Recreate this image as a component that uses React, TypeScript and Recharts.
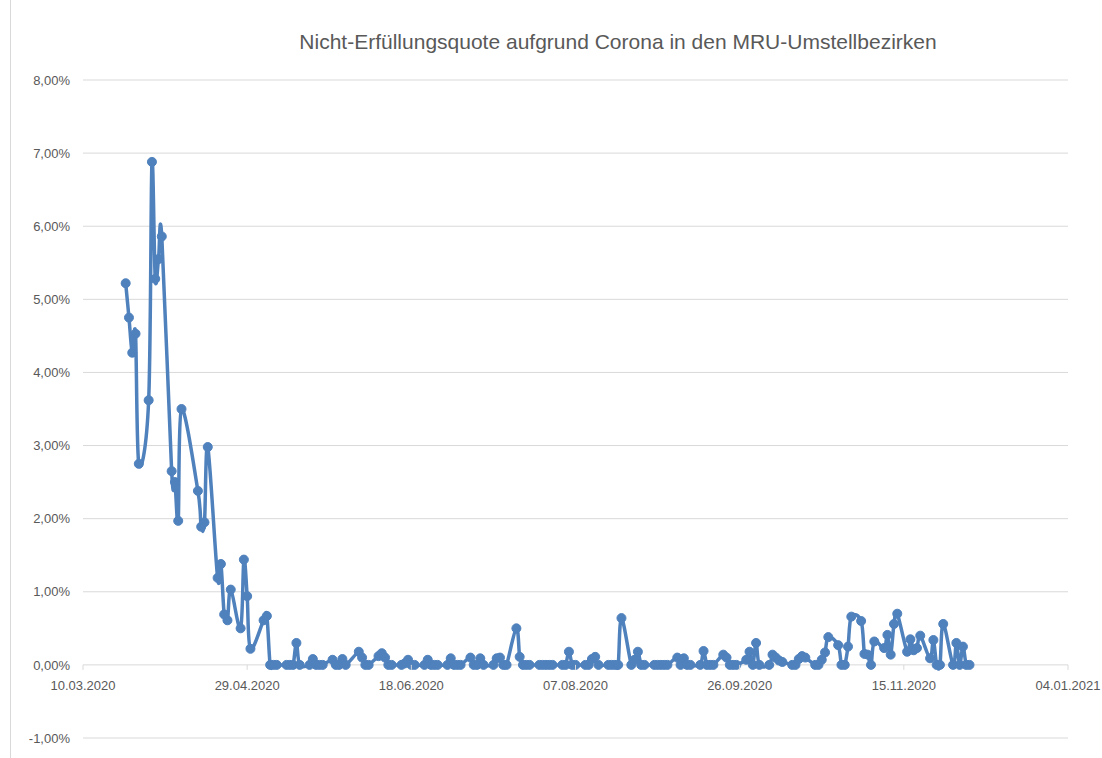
import { LineChart, Line, XAxis, YAxis, CartesianGrid } from 'recharts';

// days since 10.03.2020 (working days) and the quota in percent
const days = [
  13, 14, 15, 16, 17, 20, 21, 22, 23, 24, 27, 28, 29, 30, 35, 36, 37, 38, 41, 42, 43, 44, 45,
  48, 49, 50, 51, 55, 56, 57, 58, 59, 62, 63, 64, 65, 66, 69, 70, 71, 72, 73, 76, 77, 78, 79, 80,
  84, 85, 86, 87, 90, 91, 92, 93, 94, 97, 98, 99, 100, 101, 104, 105, 106, 107, 108,
  111, 112, 113, 114, 115, 118, 119, 120, 121, 122, 125, 126, 127, 128, 129,
  132, 133, 134, 135, 136, 139, 140, 141, 142, 143, 146, 147, 148, 149, 150,
  153, 154, 155, 156, 157, 160, 161, 162, 163, 164, 167, 168, 169, 170, 171,
  174, 175, 176, 177, 178, 181, 182, 183, 184, 185, 188, 189, 190, 191, 192,
  195, 196, 197, 198, 199, 202, 203, 204, 205, 206, 209, 210, 211, 212, 213,
  216, 217, 218, 219, 220, 223, 224, 225, 226, 227, 230, 231, 232, 233, 234,
  237, 238, 239, 240, 241, 244, 245, 246, 247, 248, 251, 252, 253, 254, 255,
  258, 259, 260, 261, 262, 265, 266, 267, 268, 269, 270,
];

const quota = [
  5.22, 4.75, 4.27, 4.53, 2.75, 3.62, 6.88, 5.28, 5.55, 5.86, 2.65, 2.5, 1.97, 3.5, 2.38, 1.89, 1.95, 2.98, 1.19, 1.38, 0.69, 0.61, 1.03,
  0.5, 1.44, 0.94, 0.22, 0.61, 0.67, 0, 0, 0, 0, 0, 0, 0.3, 0, 0, 0.08, 0, 0, 0, 0.07, 0, 0, 0.08, 0,
  0.18, 0.1, 0, 0, 0.12, 0.16, 0.1, 0, 0, 0, 0.02, 0.07, 0, 0, 0, 0.07, 0, 0, 0,
  0, 0.09, 0, 0, 0, 0.1, 0, 0, 0.09, 0, 0, 0.09, 0.1, 0, 0,
  0.5, 0.11, 0, 0, 0, 0, 0, 0, 0, 0, 0, 0, 0.18, 0, 0,
  0, 0, 0.08, 0.11, 0, 0, 0, 0, 0, 0.64, 0, 0.07, 0.18, 0, 0,
  0, 0, 0, 0, 0, 0.1, 0, 0.09, 0, 0, 0, 0.19, 0, 0, 0,
  0.14, 0.1, 0, 0, 0, 0.07, 0.18, 0, 0.3, 0, 0, 0.14, 0.1, 0.06, 0.04,
  0, 0, 0.08, 0.12, 0.1, 0, 0, 0.07, 0.17, 0.38, 0.27, 0, 0, 0.25, 0.66,
  0.6, 0.15, 0.14, 0, 0.32, 0.23, 0.41, 0.14, 0.56, 0.7, 0.18, 0.35, 0.2, 0.23, 0.4,
  0.09, 0.34, 0, 0, 0.56, 0, 0.3, 0, 0.25, 0, 0,
];

const xTicks = [0, 50, 100, 150, 200, 250, 300];
const yTicks = [-1, 0, 1, 2, 3, 4, 5, 6, 7, 8];
const title = 'Nicht-Erfüllungsquote aufgrund Corona in den MRU-Umstellbezirken';

const W = 1102;
const H = 758;
const PLOT_TOP = 80;
const PLOT_BOTTOM = 738;
const ZERO_Y = PLOT_TOP + ((8 - 0) / (8 - -1)) * (PLOT_BOTTOM - PLOT_TOP);
const BLUE = '#4f81bd';
const FONT = '"Liberation Sans", Arial, sans-serif';

const data = days.map((d, i) => ({ day: d, value: quota[i] }));

function formatDate(d: number) {
  const dt = new Date(Date.UTC(2020, 2, 10) + d * 86400000);
  const dd = String(dt.getUTCDate()).padStart(2, '0');
  const mm = String(dt.getUTCMonth() + 1).padStart(2, '0');
  return `${dd}.${mm}.${dt.getUTCFullYear()}`;
}

const formatPct = (v: number) => v.toFixed(2).replace('.', ',') + '%';

// smoothed line like Excel's (Catmull-Rom bezier)
function smoothCurve(context: any) {
  let pts: number[][] = [];
  return {
    areaStart() {},
    areaEnd() {},
    lineStart() {
      pts = [];
    },
    point(x: number, y: number) {
      pts.push([+x, +y]);
    },
    lineEnd() {
      if (!pts.length) return;
      context.moveTo(pts[0][0], pts[0][1]);
      for (let i = 0; i < pts.length - 1; i++) {
        const p0 = pts[i - 1] || pts[i];
        const p1 = pts[i];
        const p2 = pts[i + 1];
        const p3 = pts[i + 2] || p2;
        context.bezierCurveTo(
          p1[0] + (p2[0] - p0[0]) / 6,
          p1[1] + (p2[1] - p0[1]) / 6,
          p2[0] - (p3[0] - p1[0]) / 6,
          p2[1] - (p3[1] - p1[1]) / 6,
          p2[0],
          p2[1],
        );
      }
    },
  };
}

function DateTick({ x, payload }: any) {
  return (
    <g>
      <line x1={x} x2={x} y1={ZERO_Y} y2={ZERO_Y + 5} stroke="#d9d9d9" />
      <text x={x} y={ZERO_Y + 25} textAnchor="middle" fill="#595959" fontSize={13} fontFamily={FONT}>
        {formatDate(payload.value)}
      </text>
    </g>
  );
}

export default function App() {
  return (
    <div style={{ position: 'absolute', left: 0, top: 0, width: W, height: H, background: '#fff' }}>
      <div style={{ position: 'absolute', left: 10, top: 0, width: 1, height: H, background: '#d9d9d9' }} />
      <div
        style={{
          position: 'absolute',
          left: 618,
          top: 29,
          transform: 'translateX(-50%)',
          whiteSpace: 'nowrap',
          fontFamily: FONT,
          fontSize: 21,
          color: '#595959',
          lineHeight: '26px',
        }}
      >
        {title}
      </div>
      <LineChart
        width={W}
        height={H}
        data={data}
        margin={{ top: PLOT_TOP, right: W - 1068, bottom: 0, left: 0 }}
        style={{ position: 'absolute', left: 0, top: 0 }}
      >
        <CartesianGrid vertical={false} stroke="#d9d9d9" />
        <XAxis
          dataKey="day"
          type="number"
          domain={[0, 300]}
          ticks={xTicks}
          height={H - PLOT_BOTTOM}
          axisLine={false}
          tickLine={false}
          tick={<DateTick />}
          interval={0}
        />
        <YAxis
          type="number"
          domain={[-1, 8]}
          ticks={yTicks}
          width={83}
          axisLine={false}
          tickLine={false}
          tickSize={0}
          tickMargin={13}
          tickFormatter={formatPct}
          tick={{ fill: '#595959', fontSize: 13, fontFamily: FONT }}
          interval={0}
        />
        <Line
          dataKey="value"
          type={smoothCurve as any}
          stroke={BLUE}
          strokeWidth={3.5}
          dot={{ r: 4.5, fill: BLUE, stroke: BLUE, strokeWidth: 1 }}
          isAnimationActive={false}
        />
      </LineChart>
    </div>
  );
}
